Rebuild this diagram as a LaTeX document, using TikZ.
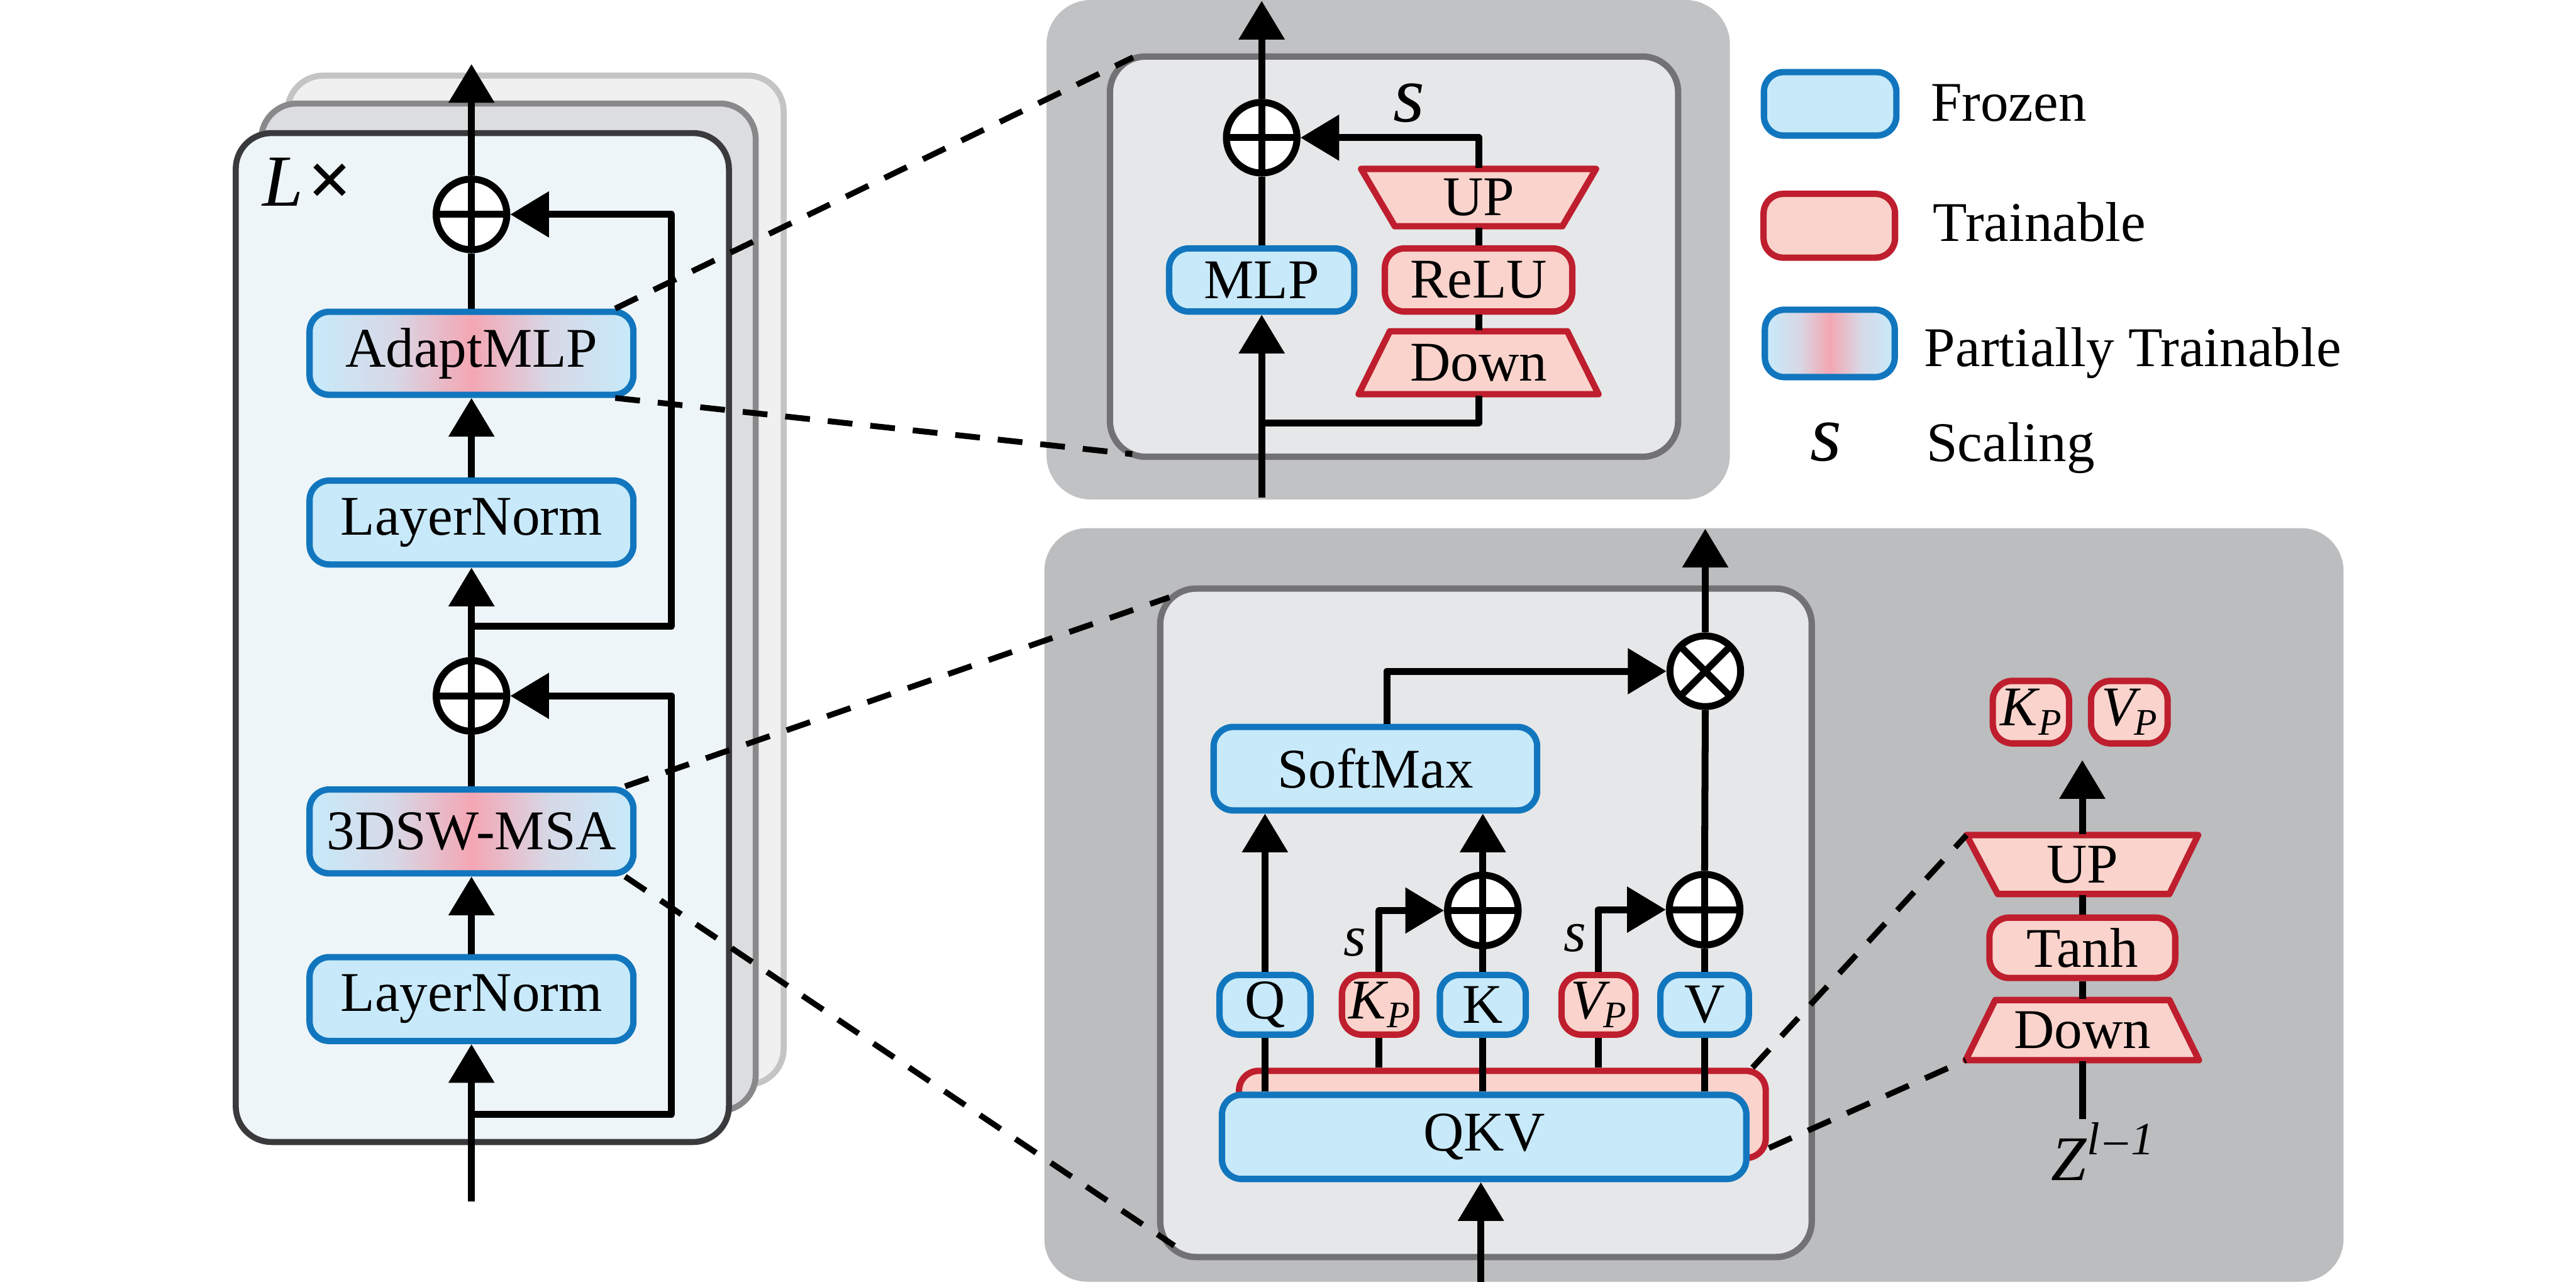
\documentclass[tikz,border=0pt]{standalone}
\usepackage{fontspec}
\setmainfont{Liberation Serif}
\usetikzlibrary{arrows.meta,calc}
\definecolor{blueB}{RGB}{17,118,190}
\definecolor{blueF}{RGB}{200,233,249}
\definecolor{redB}{RGB}{190,30,45}
\definecolor{redF}{RGB}{249,211,204}
\definecolor{pinkG}{RGB}{244,166,179}
\definecolor{lavG}{RGB}{215,216,230}
\definecolor{cardF}{RGB}{238,245,249}
\definecolor{cardB}{RGB}{58,58,60}
\definecolor{midF}{RGB}{220,221,223}
\definecolor{midB}{RGB}{137,137,139}
\definecolor{backF}{RGB}{240,240,240}
\definecolor{backB}{RGB}{196,196,196}
\definecolor{panelA}{RGB}{193,194,196}
\definecolor{panelB}{RGB}{188,189,191}
\definecolor{innerF}{RGB}{230,231,232}
\definecolor{innerB}{RGB}{114,114,116}
\pgfdeclarehorizontalshading{partialshade}{100bp}{color(0bp)=(blueF); color(26bp)=(blueF); color(38bp)=(lavG); color(50bp)=(pinkG); color(62bp)=(lavG); color(74bp)=(blueF); color(100bp)=(blueF)}
\newcommand{\KPlab}{\textit{K}\kern-0.3pt\raisebox{-1.6pt}{\fontsize{6.5}{6.5}\selectfont\textit{P}}}
\newcommand{\VPlab}{\textit{V}\kern-1.2pt\raisebox{-1.6pt}{\fontsize{6.5}{6.5}\selectfont\textit{P}}}
\begin{document}
\begin{tikzpicture}[x=0.01cm,y=-0.01cm, font=\fontsize{9.7}{11.6}\selectfont,
  rbox/.style={rectangle, rounded corners=3.4pt, line width=1.1pt, inner sep=0pt, align=center},
  frozen/.style={rbox, draw=blueB, fill=blueF},
  trainbox/.style={rbox, draw=redB, fill=redF},
  partial/.style={rbox, draw=blueB, shading=partialshade},
  trap/.style={draw=redB, fill=redF, line width=1.1pt, line join=round},
  txt/.style={inner sep=0pt},
  opnode/.style={circle, draw, line width=1.2pt, fill=white, minimum size=0.43cm, inner sep=0pt},
  opplus/.style={opnode, path picture={\draw[line width=1.2pt] (path picture bounding box.north) -- (path picture bounding box.south) (path picture bounding box.west) -- (path picture bounding box.east);}},
  optimes/.style={opnode, path picture={\draw[line width=1.2pt] (path picture bounding box.north west) -- (path picture bounding box.south east) (path picture bounding box.north east) -- (path picture bounding box.south west);}},
  conn/.style={line width=1.2pt, line join=round},
  arr/.style={conn, -{Triangle[length=6.7pt,width=7.7pt]}},
  zoomline/.style={line width=1pt, dash pattern=on 4.3pt off 3.1pt},
  innerpanel/.style={draw=innerB, fill=innerF, line width=1.1pt, rounded corners=6.2pt},
  cardstyle/.style={line width=1.04pt, rounded corners=6.2pt},
]
\useasboundingbox (0,0) rectangle (1568,780);

% ---------------- left: stacked cards ----------------
\draw[cardstyle, draw=backB, fill=backF] (175,46) rectangle (477,660);
\draw[cardstyle, draw=midB, fill=midF] (159,63) rectangle (460,676);
\draw[cardstyle, draw=cardB, fill=cardF] (143.5,81) rectangle (443.7,695);
\node[txt, anchor=base west] (lx) at (159,125.5) {\fontsize{12.7}{13}\selectfont\textit{L}\kern0.8pt{\fontsize{13.5}{13.5}\selectfont\bfseries ×}};

\node[opplus] (op1) at (287,130.5) {};
\node[partial, minimum width=1.97cm, minimum height=0.505cm] (adapt) at (287,215) {AdaptMLP};
\node[frozen, minimum width=1.97cm, minimum height=0.51cm] (ln1) at (287,318) {LayerNorm};
\node[opplus] (op2) at (287,423.5) {};
\node[partial, minimum width=1.97cm, minimum height=0.51cm] (msa) at (287,506) {3DSW-MSA};
\node[frozen, minimum width=1.97cm, minimum height=0.51cm] (ln2) at (287,608) {LayerNorm};

\coordinate (inL) at (287,731);
\coordinate (outL) at (287,39);
\coordinate (br1) at (287,678);
\coordinate (br2) at (287,381);
\coordinate (skx) at (408.7,0);
\draw[arr] (inL) -- (ln2.south);
\draw[arr] (ln2.north) -- (msa.south);
\draw[conn] (msa.north) -- (op2.south);
\draw[arr] (op2.north) -- (ln1.south);
\draw[arr] (ln1.north) -- (adapt.south);
\draw[conn] (adapt.north) -- (op1.south);
\draw[arr] (op1.north) -- (outL);
\draw[arr] (br1) -- (br1 -| skx) |- (op2.east);
\draw[arr] (br2) -- (br2 -| skx) |- (op1.east);

% ---------------- top panel: AdaptMLP ----------------
\fill[panelA, rounded corners=7.7pt] (637,0) rectangle (1053,304);
\draw[innerpanel] (675.6,34.4) rectangle (1021.5,278);
\coordinate (ipTL) at (689.7,34.9);
\coordinate (ipBL) at (689.2,276.4);

\node[opplus] (op3) at (768,83.8) {};
\node[frozen, minimum width=1.126cm, minimum height=0.384cm] (mlp) at (768,170.4) {MLP};
\node[trainbox, minimum width=1.14cm, minimum height=0.384cm] (relu) at (900,170.4) {ReLU};
\draw[trap] (828.5,102.8) -- (971.5,102.8) -- (951,137.7) -- (849,137.7) -- cycle;
\node[txt, minimum width=1.02cm, minimum height=0.349cm] (up1) at (900,120.3) {UP};
\draw[trap] (846,201.6) -- (954,201.6) -- (973,239.9) -- (827,239.9) -- cycle;
\node[txt, minimum width=1.06cm, minimum height=0.383cm] (dn1) at (900,220.8) {Down};
\node[txt] (s1) at (857.7,62.9) {\fontsize{14}{14}\selectfont\textit{s}};

\coordinate (inM) at (768,303);
\coordinate (outM) at (768,0.5);
\coordinate (br3) at (768,257.5);
\draw[arr] (inM) -- (mlp.south);
\draw[conn] (mlp.north) -- (op3.south);
\draw[arr] (op3.north) -- (outM);
\draw[conn] (br3) -| (dn1.south);
\draw[conn] (dn1.north) -- (relu.south);
\draw[conn] (relu.north) -- (up1.south);
\draw[arr] (up1.north) |- (op3.east);

% ---------------- legend ----------------
\node[frozen, minimum width=0.806cm, minimum height=0.386cm] (lgF) at (1114,63.2) {};
\node[trainbox, minimum width=0.80cm, minimum height=0.388cm] (lgT) at (1113.5,137.4) {};
\node[partial, minimum width=0.79cm, minimum height=0.41cm] (lgP) at (1113.8,209) {};
\node[txt] (lgS) at (1111.6,269) {\fontsize{14}{14}\selectfont\textit{s}};
\node[txt, anchor=base west] (tF) at (1174.6,73.7) {Frozen};
\node[txt, anchor=base west] (tT) at (1176,147) {Trainable};
\node[txt, anchor=base west] (tP) at (1170.7,223) {Partially Trainable};
\node[txt, anchor=base west] (tS) at (1172,280.8) {Scaling};

% ---------------- bottom panel: 3DSW-MSA ----------------
\fill[panelB, rounded corners=7.4pt] (635.7,321.4) rectangle (1426.5,780);
\draw[innerpanel] (706.2,358.2) rectangle (1102.8,765);
\coordinate (ipTL2) at (711.8,363.5);
\coordinate (ipBL2) at (714.8,758.1);

\node[optimes] (ot) at (1038,408.5) {};
\node[frozen, minimum width=1.968cm, minimum height=0.508cm] (sm) at (837.2,467.8) {SoftMax};
\node[opplus] (opk) at (902.6,554.1) {};
\node[opplus] (opv) at (1037.6,553.6) {};
\node[frozen, minimum width=0.553cm, minimum height=0.363cm] (q) at (770,611.5) {Q};
\node[trainbox, minimum width=0.453cm, minimum height=0.363cm] (kp) at (839.5,611.5) {\KPlab};
\node[frozen, minimum width=0.523cm, minimum height=0.363cm] (k) at (902.6,611.5) {K};
\node[trainbox, minimum width=0.45cm, minimum height=0.363cm] (vp) at (973,611.5) {\VPlab};
\node[frozen, minimum width=0.538cm, minimum height=0.363cm] (v) at (1037.6,611.5) {V};
\node[trainbox, minimum width=3.204cm, minimum height=0.53cm] (qkvr) at (914.5,678.2) {};
\node[frozen, minimum width=3.19cm, minimum height=0.512cm] (qkv) at (903.4,691.9) {QKV};
\node[txt] (s2) at (824.8,573.5) {\fontsize{10}{10}\selectfont\textit{s}};
\node[txt] (s3) at (958.6,570.8) {\fontsize{10}{10}\selectfont\textit{s}};

\coordinate (inB) at (901.4,780);
\coordinate (outB) at (1038,321.8);
\draw[arr] (inB) -- (inB |- qkv.south);
\draw[conn] (qkv.north -| q.south) -- (q.south);
\draw[arr] (q.north) -- (q.north |- sm.south);
\draw[conn] (qkv.north -| k.south) -- (k.south);
\draw[conn] (k.north) -- (opk.south);
\draw[arr] (opk.north) -- (opk.north |- sm.south);
\draw[conn] (qkv.north -| v.south) -- (v.south);
\draw[conn] (v.north) -- (opv.south);
\draw[conn] (opv.north) -- (ot.south);
\draw[arr] (ot.north) -- (outB);
\draw[conn] (qkvr.north -| kp.south) -- (kp.south);
\draw[arr] (kp.north) |- (opk.west);
\draw[conn] (qkvr.north -| vp.south) -- (vp.south);
\draw[arr] (vp.north) |- (opv.west);
\draw[arr] ([xshift=0.07cm]sm.north) |- (ot.west);

% ---------------- right adapter ----------------
\node[trainbox, minimum width=0.464cm, minimum height=0.38cm] (kp2) at (1236.2,433.4) {\KPlab};
\node[trainbox, minimum width=0.466cm, minimum height=0.38cm] (vp2) at (1296.1,433.4) {\VPlab};
\coordinate (upTL) at (1197,508.2);
\coordinate (dnBL) at (1196.5,645.2);
\draw[trap] (upTL) -- (1338,508.2) -- (1320.5,544.1) -- (1216,544.1) -- cycle;
\node[txt, minimum width=1.03cm, minimum height=0.359cm] (up2) at (1267.5,526.2) {UP};
\node[trainbox, minimum width=1.13cm, minimum height=0.367cm] (tanh) at (1267.5,576.8) {Tanh};
\draw[trap] (1214.5,608.6) -- (1320.5,608.6) -- (1338.5,645.2) -- (dnBL) -- cycle;
\node[txt, minimum width=1.05cm, minimum height=0.366cm] (dn2) at (1267.5,626.9) {Down};
\coordinate (zin) at (1267.5,681);
\coordinate (kvtip) at (1267.5,462.6);
\draw[conn] (zin) -- (dn2.south);
\draw[conn] (dn2.north) -- (tanh.south);
\draw[conn] (tanh.north) -- (up2.south);
\draw[arr] (up2.north) -- (kvtip);
\node[txt, anchor=base west] (zl) at (1248,718.3) {\fontsize{11}{11}\selectfont\textit{Z}\raisebox{4.5pt}{\fontsize{8}{8}\selectfont\textit{l}\kern0.8pt–\kern0.6pt\textit{1}}};

% ---------------- zoom (dashed) lines ----------------
\draw[zoomline] ([xshift=-0.13cm]adapt.north east) -- (ipTL);
\draw[zoomline] ([xshift=-0.13cm]adapt.south east) -- (ipBL);
\draw[zoomline] ([xshift=-0.07cm]msa.north east) -- (ipTL2);
\draw[zoomline] ([xshift=-0.07cm]msa.south east) -- (ipBL2);
\draw[zoomline] ([xshift=-0.1cm]qkvr.north east) -- (upTL);
\draw[zoomline] ([yshift=0.08cm]qkvr.south east) -- (dnBL);
\end{tikzpicture}
\end{document}
